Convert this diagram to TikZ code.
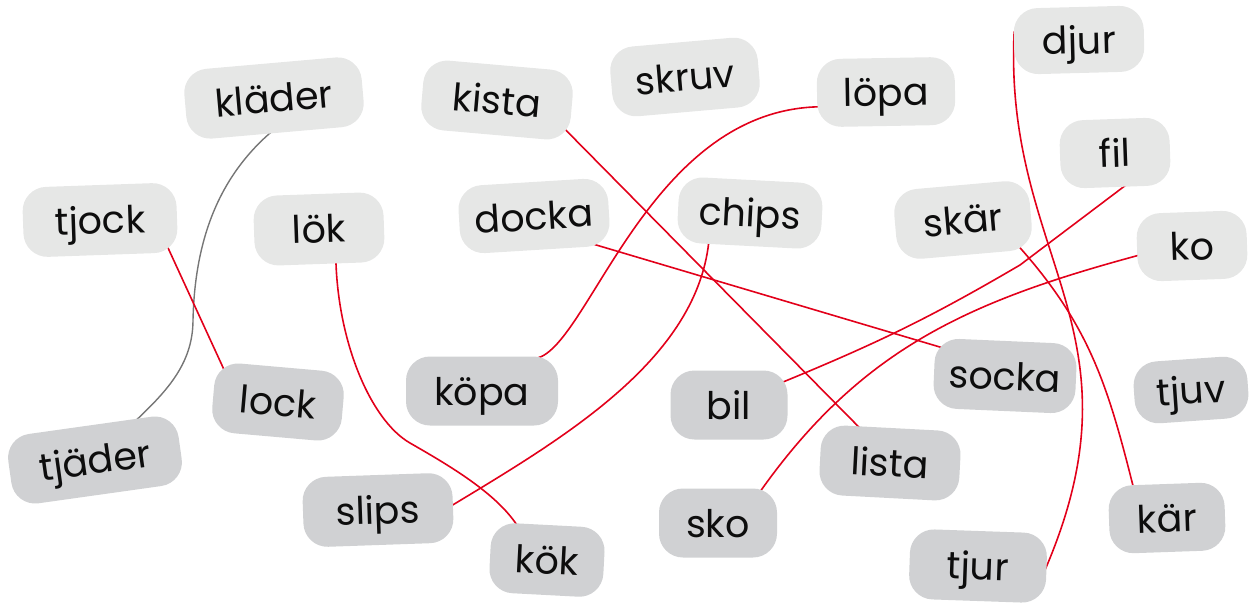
\documentclass[tikz,border=0pt]{standalone}
\usepackage{fontspec}
\setmainfont{Poppins}
\definecolor{boxlight}{RGB}{230,231,230}
\definecolor{boxdark}{RGB}{208,209,211}
\definecolor{linered}{RGB}{226,0,26}
\definecolor{linegray}{RGB}{118,118,118}
\pgfdeclarelayer{background}
\pgfsetlayers{background,main}
\tikzset{
	wordbox/.style={rounded corners=24pt, minimum height=70pt, inner xsep=0pt, text height=28pt, text depth=0pt, text=black!95, font=\fontsize{38pt}{42pt}\selectfont},
	lightbox/.style={wordbox, fill=boxlight},
	darkbox/.style={wordbox, fill=boxdark},
	redline/.style={line width=1.6pt, color=linered, shorten <=-8pt, shorten >=-8pt},
	grayline/.style={line width=1.4pt, color=linegray, shorten <=-8pt, shorten >=-8pt}
}

\begin{document}
\begin{tikzpicture}[x=1pt, y=1pt]
		%%%%% START %%%%%
		
		\useasboundingbox (0, 0) rectangle (1250, -603);
		
		\node[lightbox, minimum width=178, rotate=5] (kladder) at (274, -98) {kläder};
		\node[lightbox, minimum width=154, rotate=2] (tjock) at (100, -220) {tjock};
		\node[lightbox, minimum width=130, rotate=2] (lok) at (319, -229) {lök};
		\node[lightbox, minimum width=150, rotate=-5] (kista) at (497, -100) {kista};
		\node[lightbox, minimum width=148, rotate=5] (skruv) at (685, -77) {skruv};
		\node[lightbox, minimum width=138, minimum height=68, rotate=1] (lopa) at (886, -92) {löpa};
		\node[lightbox, minimum width=130, minimum height=66, rotate=1.5] (djur) at (1079, -40) {djur};
		\node[lightbox, minimum width=110, minimum height=68, rotate=2] (fil) at (1115, -153) {fil};
		\node[lightbox, minimum width=136, rotate=5] (skar) at (963, -220) {skär};
		\node[lightbox, minimum width=110, minimum height=68, rotate=2] (ko) at (1192, -246) {ko};
		\node[lightbox, minimum width=150, minimum height=68, rotate=3.5] (docka) at (534, -216) {docka};
		\node[lightbox, minimum width=144, minimum height=66, rotate=-3] (chips) at (750, -213) {chips};
		
		\node[darkbox, minimum width=130, rotate=-5] (lock) at (278, -402) {lock};
		\node[darkbox, minimum width=172, rotate=8] (tjader) at (95, -460) {tjäder};
		\node[darkbox, minimum width=152, minimum height=69] (kopa) at (482, -391) {köpa};
		\node[darkbox, minimum width=117, minimum height=69] (bil) at (729, -405) {bil};
		\node[darkbox, minimum width=142, rotate=-2.5] (socka) at (1005, -376) {socka};
		\node[darkbox, minimum width=114, minimum height=62, rotate=4] (tjuv) at (1191, -390) {tjuv};
		\node[darkbox, minimum width=140, rotate=-3] (lista) at (890, -463) {lista};
		\node[darkbox, minimum width=116, minimum height=68, rotate=2] (kar) at (1167, -518) {kär};
		\node[darkbox, minimum width=137, rotate=-2] (tjur) at (978, -566) {tjur};
		\node[darkbox, minimum width=118, minimum height=69] (sko) at (718, -523) {sko};
		\node[darkbox, minimum width=150, rotate=2] (slips) at (378, -510) {slips};
		\node[darkbox, minimum width=114, rotate=-3] (kok) at (547, -560) {kök};
		
		\coordinate (filknick) at (1020, -265);
		
		\begin{pgfonlayer}{background}
		\draw[grayline] (kladder.-103) .. controls (225, -170) and (195, -230) .. (193, -320) .. controls (193, -365) and (165, -393) .. (tjader.36);
		\draw[redline] (tjock.-27) -- (lock.150);
		\draw[redline] (lok.-66) .. controls (337, -340) and (370, -420) .. (410, -443) .. controls (450, -466) and (500, -495) .. (kok.133);
		\draw[redline] (kopa.29) .. controls (590, -345) and (650, -105) .. (lopa.191);
		\draw[redline] (chips.-140) .. controls (700, -360) and (560, -440) .. (slips.2);
		\draw[redline] (kista.-20) -- (lista.134);
		\draw[redline] (docka.-28) -- (socka.159);
		\draw[redline] (fil.-78) -- (filknick) to[bend left=4] (bil.23);
		\draw[redline] (ko.188) to[out=195, in=55] (sko.38);
		\draw[redline] (skar.-32) to[out=-48, in=104] (kar.134);
		\draw[redline] (djur.178) .. controls (1003, -260) and (1150, -330) .. (tjur.2);
		\end{pgfonlayer}
		
		%%%%% END %%%%%
\end{tikzpicture}
\end{document}
